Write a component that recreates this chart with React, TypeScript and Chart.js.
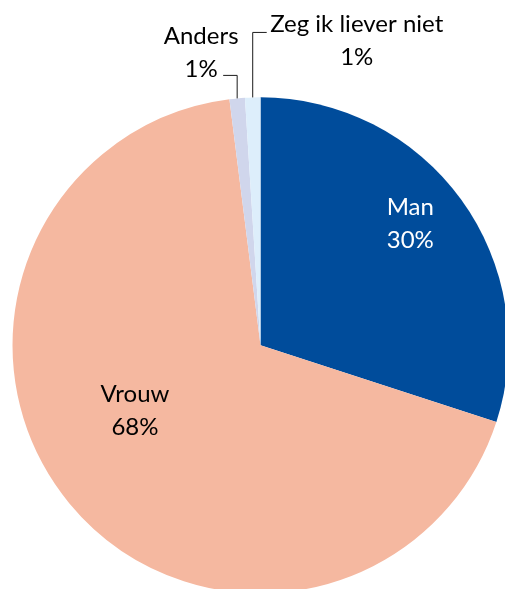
import React, { useEffect, useRef } from "react";
import { Chart, registerables } from "chart.js";

Chart.register(...registerables);

const categories = ["Man", "Vrouw", "Anders", "Zeg ik liever niet"];
const values = [30, 68, 1, 1];
const percentLabels = ["30%", "68%", "1%", "1%"];
const colors = ["#004C9B", "#F5B8A0", "#D0D6EC", "#DDEEFB"];
const textColors = ["#FFFFFF", "#000000", "#000000", "#000000"];

// label placement relative to each slice (inside: fraction along slice + radius fraction;
// outside: leader line from slice outer-edge midpoint)
type Place =
  | { kind: "inside"; t: number; r: number }
  | { kind: "outside"; rise: number; run: number; dx: number; base1: number; base2: number };

const placements: Place[] = [
  { kind: "inside", t: 0.47, r: 0.78 },
  { kind: "inside", t: 0.55, r: 0.57 },
  { kind: "outside", rise: 23, run: -14, dx: -36, base1: -54, base2: -21 },
  { kind: "outside", rise: 65, run: 14, dx: 104, base1: -65, base2: -32 },
];

const FONT = "24px Lato, 'Open Sans', sans-serif";
const LINE_GAP = 33;

const labelPlugin = {
  id: "sliceLabels",
  afterDatasetsDraw(chart: any) {
    const ctx = chart.ctx as CanvasRenderingContext2D;
    const meta = chart.getDatasetMeta(0);
    ctx.save();
    ctx.font = FONT;
    ctx.textAlign = "center";
    ctx.textBaseline = "alphabetic";
    meta.data.forEach((arc: any, i: number) => {
      const p = arc.getProps(["x", "y", "startAngle", "endAngle", "outerRadius"], true);
      const pl = placements[i];
      if (pl.kind === "inside") {
        const a = p.startAngle + pl.t * (p.endAngle - p.startAngle);
        const rr = pl.r * p.outerRadius;
        const cx = p.x + Math.cos(a) * rr;
        const cy = p.y + Math.sin(a) * rr;
        ctx.fillStyle = textColors[i];
        ctx.fillText(categories[i], cx, cy - 8);
        ctx.fillText(percentLabels[i], cx, cy - 8 + LINE_GAP);
      } else {
        const a = (p.startAngle + p.endAngle) / 2;
        const ex = p.x + Math.cos(a) * p.outerRadius;
        const ey = p.y + Math.sin(a) * p.outerRadius;
        ctx.strokeStyle = "#1A1A1A";
        ctx.lineWidth = 1;
        ctx.beginPath();
        ctx.moveTo(ex, ey);
        ctx.lineTo(ex, ey - pl.rise);
        ctx.lineTo(ex + pl.run, ey - pl.rise);
        ctx.stroke();
        ctx.fillStyle = textColors[i];
        ctx.fillText(categories[i], ex + pl.dx, ey + pl.base1);
        ctx.fillText(percentLabels[i], ex + pl.dx, ey + pl.base2);
      }
    });
    ctx.restore();
  },
};

export default function App() {
  const ref = useRef<HTMLCanvasElement | null>(null);
  useEffect(() => {
    if (!ref.current) return;
    const chart = new Chart(ref.current, {
      type: "pie",
      data: {
        labels: categories,
        datasets: [
          {
            data: values,
            backgroundColor: colors,
            borderWidth: 0,
          },
        ],
      },
      options: {
        responsive: false,
        animation: false,
        devicePixelRatio: 1,
        layout: { padding: { left: 12.5, right: 11.5, top: 97.3, bottom: 6.7 } },
        plugins: {
          legend: { display: false },
          tooltip: { enabled: false },
        },
      },
      plugins: [labelPlugin],
    });
    return () => chart.destroy();
  }, []);
  return (
    <div
      style={{
        position: "fixed",
        left: 0,
        top: 0,
        width: 505,
        height: 589,
        overflow: "hidden",
        background: "#FFFFFF",
      }}
    >
      <canvas ref={ref} width={520} height={600} style={{ width: 520, height: 600, display: "block" }} />
    </div>
  );
}
